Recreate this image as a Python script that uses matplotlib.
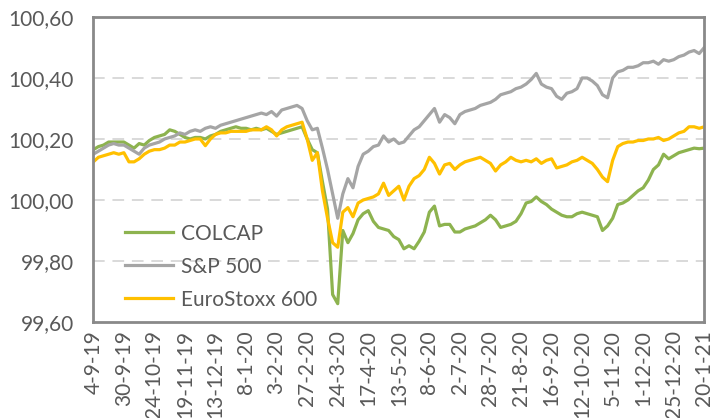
import matplotlib
matplotlib.use("Agg")
import matplotlib.pyplot as plt
import matplotlib.ticker as mtick
import numpy as np
import pandas as pd

# dias habiles del periodo (eje de categorias como en Excel)
fechas = pd.bdate_range("2019-09-04", "2021-01-20")
paso = 3  # valores leidos cada 3 dias habiles

colcap = [100.165, 100.175, 100.18, 100.19, 100.19, 100.19, 100.19, 100.18, 100.17, 100.185,
          100.18, 100.195, 100.205, 100.21, 100.215, 100.23, 100.225, 100.215, 100.205, 100.20,
          100.205, 100.205, 100.20, 100.21, 100.215, 100.225, 100.23, 100.235, 100.24, 100.235,
          100.235, 100.23, 100.235, 100.23, 100.235, 100.225, 100.215, 100.22, 100.225, 100.23,
          100.235, 100.24, 100.20, 100.165, 100.155, 100.06, 99.97, 99.69, 99.66, 99.90,
          99.86, 99.89, 99.935, 99.955, 99.965, 99.93, 99.91, 99.905, 99.90, 99.88,
          99.87, 99.84, 99.85, 99.84, 99.865, 99.895, 99.96, 99.98, 99.915, 99.92,
          99.92, 99.895, 99.895, 99.905, 99.91, 99.915, 99.925, 99.935, 99.95, 99.935,
          99.91, 99.915, 99.92, 99.93, 99.955, 99.99, 99.995, 100.01, 99.995, 99.985,
          99.97, 99.96, 99.95, 99.945, 99.945, 99.955, 99.96, 99.955, 99.95, 99.945,
          99.90, 99.915, 99.94, 99.985, 99.99, 100.00, 100.015, 100.03, 100.04, 100.065,
          100.10, 100.115, 100.15, 100.135, 100.145, 100.155, 100.16, 100.165, 100.17, 100.168,
          100.17]

sp500 = [100.15, 100.16, 100.17, 100.18, 100.185, 100.18, 100.18, 100.17, 100.16, 100.15,
         100.17, 100.18, 100.185, 100.19, 100.20, 100.205, 100.21, 100.22, 100.215, 100.225,
         100.23, 100.225, 100.235, 100.24, 100.235, 100.245, 100.25, 100.255, 100.26, 100.265,
         100.27, 100.275, 100.28, 100.285, 100.28, 100.29, 100.275, 100.295, 100.30, 100.305,
         100.31, 100.30, 100.26, 100.23, 100.235, 100.17, 100.10, 100.02, 99.94, 100.02,
         100.07, 100.04, 100.11, 100.15, 100.16, 100.175, 100.18, 100.21, 100.19, 100.20,
         100.185, 100.19, 100.21, 100.23, 100.24, 100.26, 100.28, 100.30, 100.255, 100.28,
         100.27, 100.25, 100.28, 100.29, 100.295, 100.30, 100.31, 100.315, 100.32, 100.33,
         100.345, 100.35, 100.355, 100.365, 100.37, 100.38, 100.395, 100.415, 100.38, 100.37,
         100.365, 100.34, 100.33, 100.35, 100.355, 100.365, 100.40, 100.40, 100.39, 100.375,
         100.345, 100.335, 100.40, 100.42, 100.425, 100.435, 100.435, 100.44, 100.45, 100.45,
         100.455, 100.445, 100.46, 100.455, 100.46, 100.47, 100.475, 100.485, 100.49, 100.48,
         100.50]

eurostoxx = [100.125, 100.14, 100.145, 100.15, 100.155, 100.15, 100.155, 100.125, 100.125, 100.135,
             100.15, 100.16, 100.165, 100.165, 100.17, 100.18, 100.18, 100.19, 100.19, 100.195,
             100.20, 100.20, 100.178, 100.20, 100.215, 100.22, 100.22, 100.225, 100.225, 100.225,
             100.225, 100.23, 100.23, 100.23, 100.24, 100.23, 100.21, 100.23, 100.24, 100.245,
             100.25, 100.255, 100.20, 100.13, 100.155, 100.03, 99.94, 99.86, 99.845, 99.96,
             99.975, 99.945, 99.99, 100.00, 100.005, 100.01, 100.02, 100.055, 100.015, 100.03,
             100.045, 100.00, 100.045, 100.07, 100.08, 100.10, 100.14, 100.12, 100.085, 100.115,
             100.12, 100.10, 100.115, 100.125, 100.13, 100.135, 100.14, 100.13, 100.12, 100.095,
             100.115, 100.125, 100.14, 100.13, 100.125, 100.13, 100.125, 100.135, 100.12, 100.13,
             100.135, 100.105, 100.11, 100.115, 100.125, 100.13, 100.14, 100.13, 100.12, 100.10,
             100.075, 100.06, 100.13, 100.175, 100.185, 100.19, 100.19, 100.195, 100.195, 100.20,
             100.20, 100.205, 100.195, 100.20, 100.21, 100.22, 100.225, 100.24, 100.24, 100.235,
             100.24]

series = ["COLCAP", "S&P 500", "EuroStoxx 600"]
colores = ["#8DB34F", "#A5A5A5", "#FFC000"]

# etiquetas del eje x: una cada 18 dias habiles
cada = 18
etiquetas = [f"{d.day}-{d.month}-{d.year % 100}" for d in fechas[::cada]]

plt.rcParams["font.family"] = ["Lato", "DejaVu Sans"]

fig = plt.figure(figsize=(7.13, 4.18), dpi=100)
ax = fig.add_axes([0.1309, 0.2297, 0.8569, 0.7297])

x = np.arange(len(fechas))[::paso]
for nombre, valores, c in zip(series, [colcap, sp500, eurostoxx], colores):
    ax.plot(x, valores, color=c, lw=2.3, label=nombre, solid_joinstyle="round")

ax.set_xlim(0, len(fechas) - 1)
ax.set_ylim(99.6, 100.6)
ax.set_yticks(np.arange(99.6, 100.61, 0.2))
ax.yaxis.set_major_formatter(mtick.FuncFormatter(lambda v, p: f"{v:.2f}".replace(".", ",")))
ax.set_xticks(np.arange(len(fechas))[::cada])
ax.set_xticklabels(etiquetas, rotation=90)

ax.tick_params(axis="both", length=0, labelsize=15, colors="#595959")
ax.tick_params(axis="y", pad=14)
ax.tick_params(axis="x", pad=6)

for v in [99.8, 100.0, 100.2, 100.4]:
    ax.axhline(v, color="#D9D9D9", lw=1.4, ls=(0, (6, 4)), zorder=0)

for s in ax.spines.values():
    s.set_color("#898989")
    s.set_linewidth(2)

ax.legend(loc="upper left", bbox_to_anchor=(0.052, 0.322), frameon=False,
          fontsize=15, labelcolor="#595959", handlelength=2.3, handletextpad=0.4,
          borderpad=0, borderaxespad=0, labelspacing=0.62)

fig.savefig("out.png", dpi=100)
